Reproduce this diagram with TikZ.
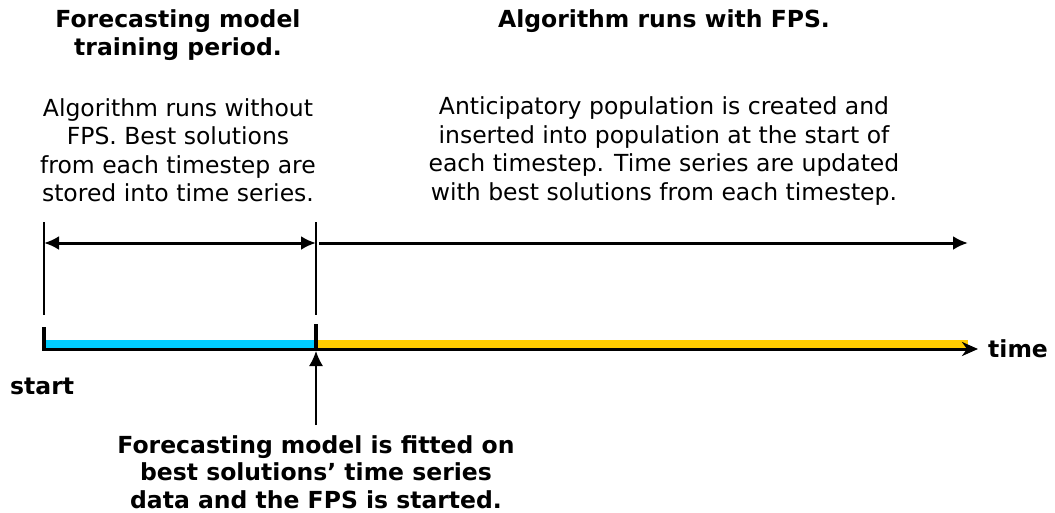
\documentclass[tikz,border=0pt]{standalone}
\usepackage{fontspec}
\setmainfont{DejaVu Sans}
\usetikzlibrary{positioning,arrows.meta}

\definecolor{trainblue}{HTML}{00CCFF}
\definecolor{fpsyellow}{HTML}{FFCC00}

\tikzset{
    bodytext/.style={align=center, font=\fontsize{23.5}{28.5}\selectfont, inner sep=0pt},
    boldtext/.style={align=center, font=\fontsize{23.5}{27.5}\selectfont\bfseries, inner sep=0pt},
    bigtip/.style={-{Latex[length=15pt,width=14pt]}},
}

\begin{document}
\begin{tikzpicture}[x=1pt,y=-1pt]
    \useasboundingbox (0,0) rectangle (1055,512);

    % Headings
    \node[boldtext] (traintitle) at (178,35) {Forecasting model\\training period.};
    \node[boldtext] (fpstitle) at (664,21) {Algorithm runs with FPS.};

    % Descriptions
    \node[bodytext] (traindesc) at (178,150) {Algorithm runs without\\FPS. Best solutions\\from each timestep are\\stored into time series.};
    \node[bodytext] (fpsdesc) at (664,151) {Anticipatory population is created and\\inserted into population at the start of\\each timestep. Time series are updated\\with best solutions from each timestep.};

    % Period markers
    \coordinate (starttop) at (44,222);
    \coordinate (startbot) at (44,315);
    \coordinate (fittop) at (316,222);
    \coordinate (fitbot) at (316,315);
    \draw[line width=1.5pt] (starttop) -- (startbot);
    \draw[line width=1.5pt] (fittop) -- (fitbot);

    % Period arrows
    \coordinate (trainL) at (44,243);
    \coordinate (trainR) at (316,243);
    \coordinate (fpsL) at (319,243);
    \coordinate (fpsR) at (968,243);
    \draw[line width=3pt, {Latex[length=15pt,width=14pt]}-{Latex[length=15pt,width=14pt]}] (trainL) -- (trainR);
    \draw[line width=3pt, bigtip] (fpsL) -- (fpsR);

    % Timeline bars
    \fill[trainblue] (46,339.5) rectangle (316,347.5);
    \fill[fpsyellow] (316,339.5) rectangle (968,347.5);

    % Time axis
    \coordinate (t0) at (42.5,349);
    \coordinate (tend) at (978,349);
    \draw[line width=3pt, -{Stealth[length=16pt,width=14pt,inset=5pt]}] (t0) -- (tend);
    \node[boldtext, anchor=west] (timelbl) at (988,349) {time};
    \node[boldtext, anchor=west] (startlbl) at (10,386) {start};

    % Ticks
    \draw[line width=3.5pt] (44,327) -- (44,350.5);
    \draw[line width=3.5pt] (316,324) -- (316,350.5);

    % Fit point
    \node[boldtext] (fitdesc) at (316,472) {Forecasting model is fitted on\\best solutions’ time series\\data and the FPS is started.};
    \coordinate (fitarrow) at (316,351);
    \draw[line width=1.5pt, bigtip] (fitdesc.north |- 0,425) -- (fitarrow);
\end{tikzpicture}
\end{document}
